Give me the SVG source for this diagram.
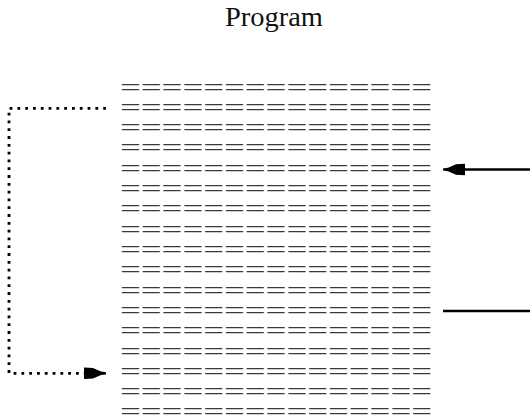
<svg xmlns="http://www.w3.org/2000/svg" width="530" height="417" viewBox="0 0 530 417">
  <style>
    .title { font-family: "Liberation Serif", "Times New Roman", serif; font-size: 27px; fill: #111; }
    .rows { font-family: "Liberation Serif", "Times New Roman", serif; font-size: 26px; fill: #3a3a3a; }
    .solid { fill: none; stroke: #000; stroke-width: 2.4; }
    .dotted { fill: none; stroke: #000; stroke-width: 2.8; stroke-dasharray: 2.8 5; }
  </style>
  <defs>
    <!-- barbed arrowhead, tip at origin, pointing along +x -->
    <path id="head" d="M0,-1.1 L-5,-1.8 L-13,-5.2 L-22,-5.8 L-22,5.8 L-13,5.2 L-5,1.8 L0,1.1 Z" fill="#000"/>
  </defs>

  <g id="title">
    <text class="title" x="274" y="26" text-anchor="middle" textLength="98" lengthAdjust="spacingAndGlyphs">Program</text>
  </g>

  <g id="program">
    <text class="rows" lengthAdjust="spacingAndGlyphs">
      <tspan x="120" y="95.5" textLength="312" lengthAdjust="spacingAndGlyphs">===============</tspan>
      <tspan x="120" y="115.8" textLength="312" lengthAdjust="spacingAndGlyphs">===============</tspan>
      <tspan x="120" y="136.1" textLength="312" lengthAdjust="spacingAndGlyphs">===============</tspan>
      <tspan x="120" y="156.4" textLength="312" lengthAdjust="spacingAndGlyphs">===============</tspan>
      <tspan x="120" y="176.7" textLength="312" lengthAdjust="spacingAndGlyphs">===============</tspan>
      <tspan x="120" y="197.0" textLength="312" lengthAdjust="spacingAndGlyphs">===============</tspan>
      <tspan x="120" y="217.4" textLength="312" lengthAdjust="spacingAndGlyphs">===============</tspan>
      <tspan x="120" y="237.7" textLength="312" lengthAdjust="spacingAndGlyphs">===============</tspan>
      <tspan x="120" y="258.0" textLength="312" lengthAdjust="spacingAndGlyphs">===============</tspan>
      <tspan x="120" y="278.3" textLength="312" lengthAdjust="spacingAndGlyphs">===============</tspan>
      <tspan x="120" y="298.6" textLength="312" lengthAdjust="spacingAndGlyphs">===============</tspan>
      <tspan x="120" y="318.9" textLength="312" lengthAdjust="spacingAndGlyphs">===============</tspan>
      <tspan x="120" y="339.2" textLength="312" lengthAdjust="spacingAndGlyphs">===============</tspan>
      <tspan x="120" y="359.5" textLength="312" lengthAdjust="spacingAndGlyphs">===============</tspan>
      <tspan x="120" y="379.8" textLength="312" lengthAdjust="spacingAndGlyphs">===============</tspan>
      <tspan x="120" y="400.1" textLength="312" lengthAdjust="spacingAndGlyphs">===============</tspan>
      <tspan x="120" y="420.4" textLength="312" lengthAdjust="spacingAndGlyphs">===============</tspan>
    </text>
  </g>

  <g id="connectors">
    <!-- incoming arrow on the right -->
    <line class="solid" x1="530" y1="169.5" x2="452" y2="169.5"/>
    <use href="#head" transform="translate(443,169.5) rotate(180)"/>
    <!-- plain line on the right -->
    <line class="solid" x1="530" y1="311" x2="443" y2="311"/>
    <!-- dotted loop back on the left -->
    <path class="dotted" d="M106,108.3 L9,108.3 L9,373.3 L94,373.3"/>
    <use href="#head" transform="translate(106,373.3)"/>
  </g>
</svg>
